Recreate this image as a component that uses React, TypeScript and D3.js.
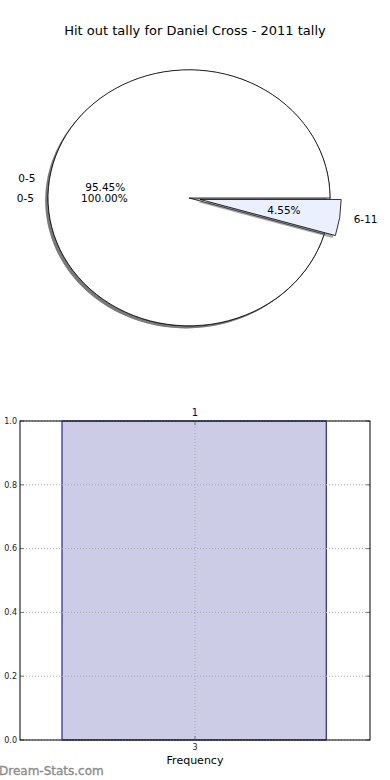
import React from "react";
import * as d3 from "d3";

// pie data (two pies are drawn over each other in the original)
const tallyCats = ["0-5", "6-11"];
const tallyVals = [21, 1];
const tallyExplode = [0, 0.08];
const tallyColors = ["#ffffff", "#ebf0ff"];
const fullCats = ["0-5"];
const fullVals = [21];

// histogram data
const freqBins = [3];
const freqStart = [2.24];
const freqEnd = [3.75];
const freqCounts = [1];
const yTicks = [0, 0.2, 0.4, 0.6, 0.8, 1.0];

const W = 390;
const H = 780;
const font = "DejaVu Sans, sans-serif";

const cx = 189;
const cy = 198;
const rx = 141;
const ry = 128;

type Slice = { cat: string; value: number; start: number; end: number; explode: number; color: string; pct: number };

function makeSlices(cats: string[], vals: number[], explode: number[], colors: string[]): Slice[] {
  const total = d3.sum(vals);
  const pie = d3
    .pie<number>()
    .sort(null)
    .startAngle(Math.PI / 2)
    .endAngle(Math.PI / 2 - 2 * Math.PI);
  return pie(vals).map((p, i) => ({
    cat: cats[i],
    value: p.value,
    start: p.startAngle,
    end: p.endAngle,
    explode: explode[i] || 0,
    color: colors[i] || "#ffffff",
    pct: (p.value / total) * 100,
  }));
}

const arc = d3.arc<any>().innerRadius(0).outerRadius(1);

function geom(s: Slice) {
  const mid = (s.start + s.end) / 2;
  const ux = Math.sin(mid);
  const uy = -Math.cos(mid);
  const ox = cx + s.explode * rx * ux;
  const oy = cy + s.explode * ry * uy;
  return { ux, uy, ox, oy };
}

const Wedges = ({ slices }: { slices: Slice[] }) => (
  <g>
    {slices.map((s, i) => {
      const { ox, oy } = geom(s);
      const d = arc({ startAngle: s.start, endAngle: s.end }) as string;
      return (
        <g key={i}>
          <path
            d={d}
            transform={`translate(${ox - 0.02 * rx},${oy + 0.02 * ry}) scale(${rx},${ry})`}
            fill="#4d4d4d"
            fillOpacity={0.5}
          />
          <path
            d={d}
            transform={`translate(${ox},${oy}) scale(${rx},${ry})`}
            fill={s.color}
            stroke="#000"
            strokeWidth={0.8}
            vectorEffect="non-scaling-stroke"
            strokeLinejoin="round"
          />
        </g>
      );
    })}
  </g>
);

const Labels = ({ slices }: { slices: Slice[] }) => (
  <g fontFamily={font} fontSize={10.5} fill="#000">
    {slices.map((s, i) => {
      const { ux, uy, ox, oy } = geom(s);
      return (
        <g key={i}>
          <text
            x={ox + 1.1 * rx * ux}
            y={oy + 1.1 * ry * uy}
            dy="0.35em"
            textAnchor={ux > 0 ? "start" : "end"}
          >
            {s.cat}
          </text>
          <text x={ox + 0.6 * rx * ux} y={oy + 0.6 * ry * uy} dy="0.35em" textAnchor="middle">
            {s.pct.toFixed(2) + "%"}
          </text>
        </g>
      );
    })}
  </g>
);

const App = () => {
  const fullSlices = makeSlices(fullCats, fullVals, [0], ["#ffffff"]);
  const tallySlices = makeSlices(tallyCats, tallyVals, tallyExplode, tallyColors);

  const left = 20;
  const right = 370;
  const top = 421;
  const bottom = 740;
  const x = d3.scaleLinear().domain([2, 4]).range([left, right]);
  const y = d3.scaleLinear().domain([0, 1]).range([bottom, top]);

  return (
    <svg
      width={W}
      height={H}
      viewBox={`0 0 ${W} ${H}`}
      style={{ position: "absolute", left: 0, top: 0, background: "#fff" }}
    >
      <rect width={W} height={H} fill="#fff" />
      <text x={195} y={30} dy="0.35em" textAnchor="middle" fontFamily={font} fontSize={13}>
        Hit out tally for Daniel Cross - 2011 tally
      </text>

      <Wedges slices={fullSlices} />
      <Wedges slices={tallySlices} />
      <Labels slices={fullSlices} />
      <Labels slices={tallySlices} />

      {/* histogram */}
      {freqBins.map((b, i) => (
        <g key={i}>
          <rect
            x={x(freqStart[i])}
            y={y(freqCounts[i])}
            width={x(freqEnd[i]) - x(freqStart[i])}
            height={y(0) - y(freqCounts[i])}
            fill="#ccccE6"
            stroke="#000080"
            strokeWidth={1}
          />
          <text
            x={x(b)}
            y={y(freqCounts[i]) - 9}
            dy="0.35em"
            textAnchor="middle"
            fontFamily={font}
            fontSize={10}
            fill="#000080"
          >
            {freqCounts[i]}
          </text>
        </g>
      ))}

      {yTicks.map((t) => (
        <g key={t}>
          <line
            x1={left}
            x2={right}
            y1={y(t)}
            y2={y(t)}
            stroke="#aaa"
            strokeWidth={1}
            strokeDasharray="1,2"
          />
          <line x1={left} x2={left + 4} y1={y(t)} y2={y(t)} stroke="#777" />
          <line x1={right - 4} x2={right} y1={y(t)} y2={y(t)} stroke="#777" />
          <text
            x={left - 3}
            y={y(t)}
            dy="0.35em"
            textAnchor="end"
            fontFamily={font}
            fontSize={8}
            fill="#222"
          >
            {t.toFixed(1)}
          </text>
        </g>
      ))}
      {freqBins.map((b) => (
        <g key={"x" + b}>
          <line x1={x(b)} x2={x(b)} y1={top} y2={bottom} stroke="#aaa" strokeDasharray="1,2" />
          <line x1={x(b)} x2={x(b)} y1={bottom - 4} y2={bottom} stroke="#777" />
          <line x1={x(b)} x2={x(b)} y1={top} y2={top + 4} stroke="#777" />
          <text
            x={x(b)}
            y={bottom + 7}
            dy="0.35em"
            textAnchor="middle"
            fontFamily={font}
            fontSize={8}
            fill="#222"
          >
            {b}
          </text>
        </g>
      ))}
      <rect
        x={left}
        y={top}
        width={right - left}
        height={bottom - top}
        fill="none"
        stroke="#000"
        strokeWidth={1}
      />
      <text x={195} y={760} dy="0.35em" textAnchor="middle" fontFamily={font} fontSize={11}>
        Frequency
      </text>
      <text
        x={-1}
        y={775}
        fontFamily={font}
        fontSize={12}
        fill="#8c8c8c"
        stroke="#8c8c8c"
        strokeWidth={0.35}
      >
        Dream-Stats.com
      </text>
    </svg>
  );
};

export default App;
